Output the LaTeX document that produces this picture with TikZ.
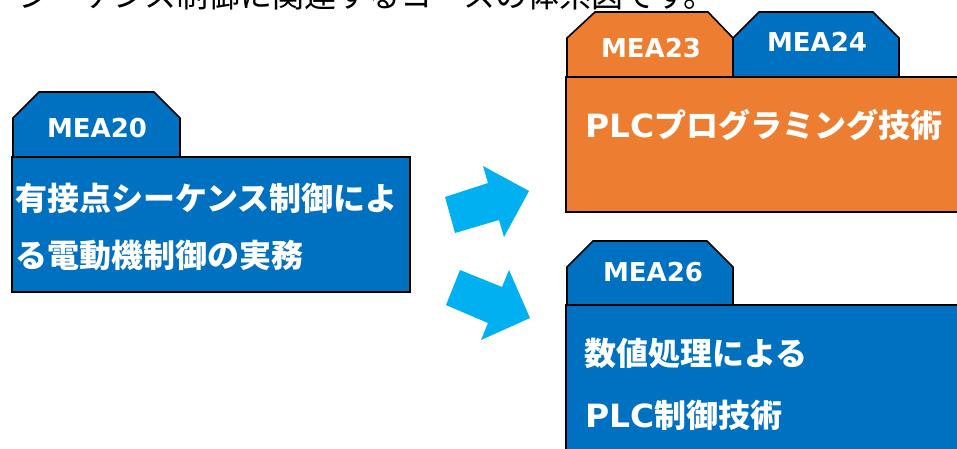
\documentclass[tikz,border=0pt]{standalone}
\usepackage{fontspec}
\newfontfamily\cjk{Noto Sans CJK JP}
\newfontfamily\lat{DejaVu Sans}
\newfontfamily\latw{DejaVu Sans}[FakeStretch=1.03]
\definecolor{mblue}{HTML}{0070C0}
\definecolor{morange}{HTML}{ED7D31}
\definecolor{mcyan}{HTML}{00B0F0}
\begin{document}
\begin{tikzpicture}[x=1pt,y=-1pt,
  panel/.style={draw=black,line width=1.6pt,line join=miter},
  tabtxt/.style={text=white,font=\lat\bfseries\fontsize{26}{26}\selectfont,inner sep=0pt,anchor=center},
  bodytxt/.style={text=white,font=\cjk\bfseries\fontsize{32}{32}\selectfont,inner sep=0pt,anchor=base west},
  toptxt/.style={text=black,font=\cjk\fontsize{32}{32}\selectfont,inner sep=0pt,anchor=base west},
  blockarrow/.style={fill=mcyan,draw=none}]
\useasboundingbox (0,0) rectangle (957,448);
\clip (0,0) rectangle (957,448);

% top sentence (clipped at top edge, as in the reference)
\node[toptxt] (title) at (18,7) {シーケンス制御に関連するコースの体系図です。};

% MEA20 panel
\draw[panel,fill=mblue] (13,157) -- (13,118) -- (39,92) -- (154,92) -- (180,118) -- (180,157) -- cycle;
\draw[panel,fill=mblue] (12,157) rectangle (410,292);
\node[tabtxt] (t20) at (97,128) {MEA20};
\node[bodytxt] (b20a) at (15,210) {有接点シーケンス制御によ};
\node[bodytxt] (b20b) at (15,267) {る電動機制御の実務};

% MEA23 / MEA24 panel
\draw[panel,fill=morange] (567,77) -- (567,38) -- (595,12) -- (708,12) -- (733,38) -- (733,77) -- cycle;
\draw[panel,fill=mblue] (733,77) -- (733,38) -- (759,12) -- (873,12) -- (899,38) -- (899,77) -- cycle;
\draw[panel,fill=morange] (566,77) rectangle (975,212);
\node[tabtxt] (t23) at (651,48) {MEA23};
\node[tabtxt] (t24) at (817,42) {MEA24};
\node[bodytxt] (b23) at (585,137) {{\latw\bfseries PLC}プログラミング技術};

% MEA26 panel
\draw[panel,fill=mblue] (567,305) -- (567,267) -- (593,241) -- (707,241) -- (733,267) -- (733,305) -- cycle;
\draw[panel,fill=mblue] (566,305) rectangle (975,470);
\node[tabtxt] (t26) at (653,272) {MEA26};
\node[bodytxt] (b26a) at (584,365) {数値処理による};
\node[bodytxt] (b26b) at (585,427) {{\latw\bfseries PLC}制御技術};

% block arrows
\fill[blockarrow] (445,197) -- (455,233) -- (499,220) -- (504,237) -- (529,191) -- (483,166) -- (488,183) -- cycle;
\fill[blockarrow] (460,270) -- (446,305) -- (488,323) -- (481,340) -- (530,318) -- (509,270) -- (502,287) -- cycle;
\end{tikzpicture}
\end{document}
